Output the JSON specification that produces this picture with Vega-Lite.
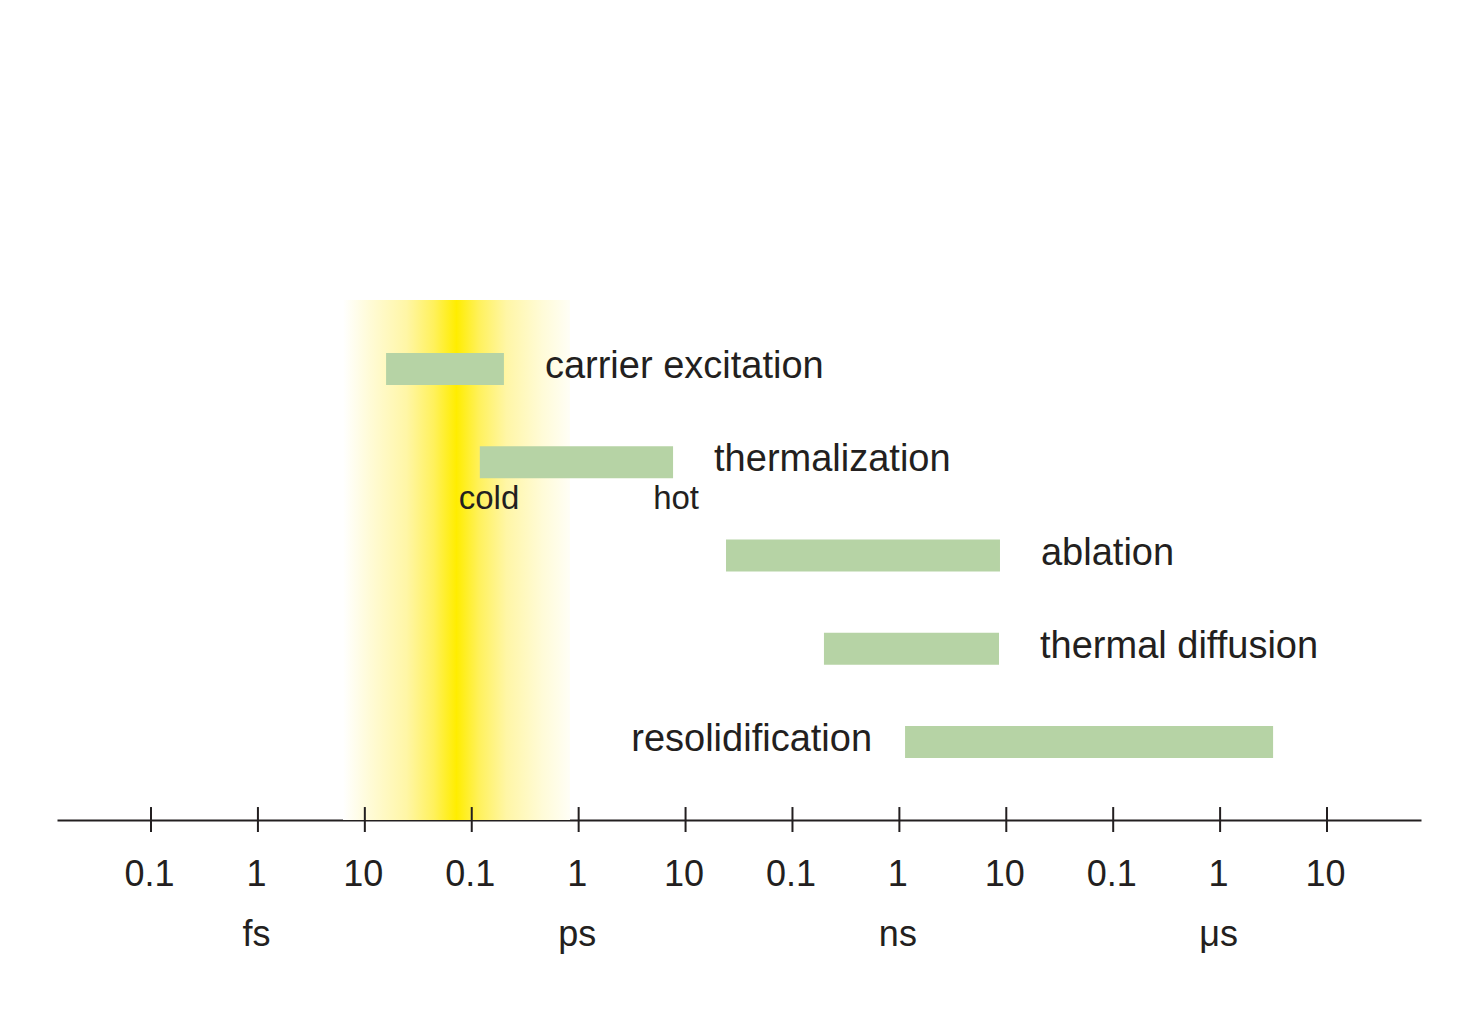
{
  "$schema": "https://vega.github.io/schema/vega-lite/v6.json",
  "width": 1364,
  "height": 820,
  "autosize": {"type": "none"},
  "padding": {"left": 57, "top": 0, "right": 44, "bottom": 211},
  "background": "white",
  "config": {"view": {"stroke": null}, "font": "Liberation Sans"},
  "datasets": {
    "processes": [
      {"process": "carrier excitation", "row": 1, "start_fs": 15.8, "end_fs": 200, "side": "right"},
      {"process": "thermalization", "row": 2, "start_fs": 119, "end_fs": 7640, "side": "right"},
      {"process": "ablation", "row": 3, "start_fs": 23900, "end_fs": 8730000, "side": "right"},
      {"process": "thermal diffusion", "row": 4, "start_fs": 197000, "end_fs": 8550000, "side": "right"},
      {"process": "resolidification", "row": 5, "start_fs": 1130000, "end_fs": 3130000000, "side": "left"}
    ],
    "band": [{"start_fs": 6.25, "end_fs": 830}],
    "ticks": [
      {"t_fs": 0.1}, {"t_fs": 1}, {"t_fs": 10}, {"t_fs": 100}, {"t_fs": 1000}, {"t_fs": 10000},
      {"t_fs": 100000}, {"t_fs": 1000000}, {"t_fs": 10000000}, {"t_fs": 100000000},
      {"t_fs": 1000000000}, {"t_fs": 10000000000}
    ],
    "notes": [
      {"text": "cold", "t_fs": 145, "row": 2},
      {"text": "hot", "t_fs": 8150, "row": 2}
    ]
  },
  "layer": [
    {
      "data": {"name": "band"},
      "mark": {
        "type": "rect",
        "fill": {
          "gradient": "linear", "x1": 0, "y1": 0, "x2": 1, "y2": 0,
          "stops": [
            {"offset": 0, "color": "#ffffff"},
            {"offset": 0.12, "color": "#fffbd6"},
            {"offset": 0.28, "color": "#fff6a6"},
            {"offset": 0.4, "color": "#fff15c"},
            {"offset": 0.5, "color": "#ffed00"},
            {"offset": 0.6, "color": "#fff15c"},
            {"offset": 0.72, "color": "#fff6a6"},
            {"offset": 0.88, "color": "#fffbd8"},
            {"offset": 1, "color": "#fffef6"}
          ]
        }
      },
      "encoding": {
        "x": {
          "field": "start_fs", "type": "quantitative",
          "scale": {"type": "log", "domain": [0.0132, 75700000000], "nice": false},
          "axis": {
            "values": [0.1, 1, 10, 100, 1000, 10000, 100000, 1000000, 10000000, 100000000, 1000000000, 10000000000],
            "labelExpr": "(round(log(datum.value)/LN10)+1)%3 == 0 ? '0.1' : ((round(log(datum.value)/LN10)+1)%3 == 1 ? ['1', ['fs','ps','ns','μs'][floor((round(log(datum.value)/LN10)+1)/3)]] : '10')",
            "domain": true, "domainColor": "#231f20", "domainWidth": 2,
            "ticks": false, "grid": false, "title": null,
            "labelFont": "Liberation Sans", "labelFontSize": 36, "labelColor": "#231f20",
            "labelPadding": 37, "labelLineHeight": 60, "labelOffset": -2,
            "labelFlush": false, "labelOverlap": false, "labelBound": false
          }
        },
        "x2": {"field": "end_fs"},
        "y": {"datum": 0.26, "type": "quantitative", "scale": {"domain": [-2.957, 5.836], "reverse": true, "zero": false, "nice": false}, "axis": null},
        "y2": {"datum": 5.836}
      }
    },
    {
      "data": {"name": "processes"},
      "mark": {"type": "rule", "strokeWidth": 32, "strokeCap": "butt", "color": "#b6d3a5"},
      "encoding": {
        "x": {"field": "start_fs", "type": "quantitative", "scale": {"type": "log", "domain": [0.0132, 75700000000], "nice": false}},
        "x2": {"field": "end_fs"},
        "y": {"field": "row", "type": "quantitative", "scale": {"domain": [-2.957, 5.836], "reverse": true, "zero": false, "nice": false}, "axis": null}
      }
    },
    {
      "data": {"name": "processes"},
      "transform": [{"filter": "datum.side == 'right'"}],
      "mark": {"type": "text", "align": "left", "baseline": "middle", "dx": 41, "dy": -2, "fontSize": 38, "color": "#231f20", "font": "Liberation Sans"},
      "encoding": {
        "x": {"field": "end_fs", "type": "quantitative", "scale": {"type": "log", "domain": [0.0132, 75700000000], "nice": false}},
        "y": {"field": "row", "type": "quantitative", "scale": {"domain": [-2.957, 5.836], "reverse": true, "zero": false, "nice": false}, "axis": null},
        "text": {"field": "process"}
      }
    },
    {
      "data": {"name": "processes"},
      "transform": [{"filter": "datum.side == 'left'"}],
      "mark": {"type": "text", "align": "right", "baseline": "middle", "dx": -33, "dy": -2, "fontSize": 38, "color": "#231f20", "font": "Liberation Sans"},
      "encoding": {
        "x": {"field": "start_fs", "type": "quantitative", "scale": {"type": "log", "domain": [0.0132, 75700000000], "nice": false}},
        "y": {"field": "row", "type": "quantitative", "scale": {"domain": [-2.957, 5.836], "reverse": true, "zero": false, "nice": false}, "axis": null},
        "text": {"field": "process"}
      }
    },
    {
      "data": {"name": "notes"},
      "mark": {"type": "text", "align": "center", "baseline": "middle", "dy": 37, "fontSize": 33, "color": "#231f20", "font": "Liberation Sans"},
      "encoding": {
        "x": {"field": "t_fs", "type": "quantitative", "scale": {"type": "log", "domain": [0.0132, 75700000000], "nice": false}},
        "y": {"field": "row", "type": "quantitative", "scale": {"domain": [-2.957, 5.836], "reverse": true, "zero": false, "nice": false}, "axis": null},
        "text": {"field": "text"}
      }
    },
    {
      "data": {"name": "ticks"},
      "mark": {"type": "rule", "strokeWidth": 2, "color": "#231f20"},
      "encoding": {
        "x": {"field": "t_fs", "type": "quantitative", "scale": {"type": "log", "domain": [0.0132, 75700000000], "nice": false}},
        "y": {"datum": 5.697, "type": "quantitative", "scale": {"domain": [-2.957, 5.836], "reverse": true, "zero": false, "nice": false}, "axis": null},
        "y2": {"datum": 5.965}
      }
    }
  ]
}
